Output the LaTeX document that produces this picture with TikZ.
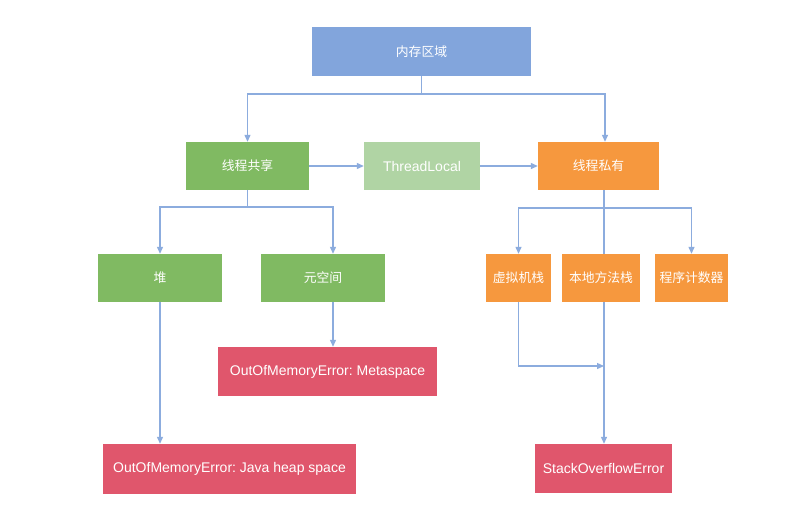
\documentclass[tikz,border=0pt]{standalone}
\usepackage{fontspec}
\setmainfont{Liberation Sans}
\newfontfamily\cjk{Noto Sans CJK SC}
\usetikzlibrary{arrows.meta}
\frenchspacing
\definecolor{cblue}{RGB}{130,165,220}
\definecolor{cgreen}{RGB}{128,186,98}
\definecolor{clgreen}{RGB}{176,212,164}
\definecolor{corange}{RGB}{246,152,62}
\definecolor{cred}{RGB}{224,86,108}
\definecolor{cline}{RGB}{140,172,222}
\tikzset{
  box/.style={rectangle, draw=none, text=white, inner sep=0pt, minimum height=48pt, font=\fontsize{14}{16}\selectfont},
  zh/.style={font=\cjk\fontsize{12.8}{15}\selectfont},
  conn/.style={draw=cline, line width=1.2pt},
  arr/.style={conn, -{Triangle[length=7pt,width=6pt]}}
}
\begin{document}
\begin{tikzpicture}[x=1pt,y=-1pt]
\useasboundingbox[fill=white] (0,0) rectangle (789,523);
% nodes
\node[box,zh,fill=cblue,minimum width=219pt,minimum height=49pt] (mem) at (421.5,51.5) {内存区域};
\node[box,zh,fill=cgreen,minimum width=123pt] (shared) at (247.5,166) {线程共享};
\node[box,fill=clgreen,minimum width=116pt] (tl) at (422,166) {ThreadLocal};
\node[box,zh,fill=corange,minimum width=121pt] (priv) at (598.5,166) {线程私有};
\node[box,zh,fill=cgreen,minimum width=124pt] (heap) at (160,278) {堆};
\node[box,zh,fill=cgreen,minimum width=124pt] (meta) at (323,278) {元空间};
\node[box,fill=cred,minimum width=219pt,minimum height=49pt] (oommeta) at (327.5,371.5) {OutOfMemoryError: Metaspace};
\node[box,fill=cred,minimum width=253pt,minimum height=50pt] (oomheap) at (229.5,469) {OutOfMemoryError: Java heap space};
\node[box,zh,fill=corange,minimum width=65pt] (vms) at (518.5,278) {虚拟机栈};
\node[box,zh,fill=corange,minimum width=78pt] (nms) at (601,278) {本地方法栈};
\node[box,zh,fill=corange,minimum width=73pt] (pc) at (691.5,278) {程序计数器};
\node[box,fill=cred,minimum width=137pt,minimum height=49pt] (soe) at (603.5,468.5) {StackOverflowError};
% junctions
\coordinate (j1) at (421.5,94);
\coordinate (j2) at (247.5,207);
\coordinate (j3) at (604,208);
\coordinate (j4) at (604,366);
% connectors
\draw[conn] (mem.south) -- (j1);
\draw[arr] (j1) -| (shared.north);
\draw[arr] (j1) -| ([xshift=6.5pt]priv.north);
\draw[arr] (shared.east) -- (tl.west);
\draw[arr] (tl.east) -- (priv.west);
\draw[conn] (shared.south) -- (j2);
\draw[arr] (j2) -| (heap.north);
\draw[arr] (j2) -| ([xshift=10pt]meta.north);
\draw[arr] (heap.south) -- (heap.south |- oomheap.north);
\draw[arr] ([xshift=10pt]meta.south) -- ([xshift=10pt]meta.south |- oommeta.north);
\draw[conn] ([xshift=5.5pt]priv.south) -- ([xshift=3pt]nms.north);
\draw[arr] (j3) -| (vms.north);
\draw[arr] (j3) -| (pc.north);
\draw[arr] ([xshift=3pt]nms.south) -- ([xshift=3pt]nms.south |- soe.north);
\draw[arr] (vms.south) |- (j4);
\end{tikzpicture}
\end{document}
